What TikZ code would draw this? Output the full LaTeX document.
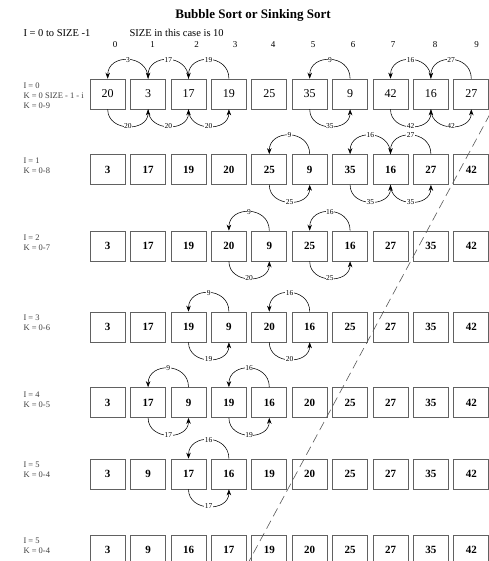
\documentclass[tikz,border=0pt]{standalone}
\usepackage{fontspec}
\setmainfont{Liberation Serif}
\usetikzlibrary{arrows.meta}
\newcommand\cellrow[4]{% #1 row, #2 y, #3 style, #4 values
  \foreach \v [count=\i from 0] in {#4} {\node[#3] (b#1-\i) at ({107.7+40.4*\i},-#2) {\v};}}
\newcommand\topsw[4]{\draw[swap] (b#1-#2.north) to[out=90,in=90,looseness=1.6] node[lbl]{#4} (b#1-#3.north);}
\newcommand\botsw[4]{\draw[swap] (b#1-#2.south) to[out=-90,in=-90,looseness=1.45] node[lbl]{#4} (b#1-#3.south);}
\begin{document}
\begin{tikzpicture}[x=1pt,y=1pt,
  cellbase/.style={draw=black!62, line width=0.7pt, minimum width=35pt, minimum height=30pt, inner sep=0pt},
  cellA/.style={cellbase, font=\fontsize{12}{14}\selectfont},
  cellB/.style={cellbase, font=\fontsize{11}{13}\selectfont\bfseries},
  swap/.style={line width=0.55pt, -{Stealth[length=6pt,width=4.5pt]}},
  lbl/.style={fill=white, inner sep=0.5pt, font=\fontsize{7.5}{8}\selectfont},
  side/.style={anchor=west, align=left, text=black!75, font=\fontsize{8.5}{10}\selectfont},
  head/.style={anchor=west, font=\fontsize{10.5}{12}\selectfont},
  colnum/.style={font=\fontsize{9}{10}\selectfont}]
\useasboundingbox (0,0) rectangle (488,-561);
\fill[white] (0,0) rectangle (488,-561);
% header
\node[font=\fontsize{13}{15}\selectfont\bfseries] (title) at (253,-15) {Bubble Sort or Sinking Sort};
\node[head] (h1) at (20,-33) {I = 0 to SIZE -1};
\node[head] (h2) at (126,-33) {SIZE in this case is 10};
\foreach \c [count=\i from 0] in {115,152.7,196.7,235,273,313,353,393,435,476.7}
  \node[colnum] (c\i) at (\c,-45) {\i};
% rows
\cellrow{0}{94}{cellA}{20,3,17,19,25,35,9,42,16,27}
\cellrow{1}{169.5}{cellB}{3,17,19,20,25,9,35,16,27,42}
\cellrow{2}{246}{cellB}{3,17,19,20,9,25,16,27,35,42}
\cellrow{3}{327}{cellB}{3,17,19,9,20,16,25,27,35,42}
\cellrow{4}{402.5}{cellB}{3,17,9,19,16,20,25,27,35,42}
\cellrow{5}{474}{cellB}{3,9,17,16,19,20,25,27,35,42}
\cellrow{6}{550}{cellB}{3,9,16,17,19,20,25,27,35,42}
% side labels
\node[side] (s0) at (20,-96) {I = 0\\K = 0 SIZE - 1 - i\\K = 0-9};
\node[side] (s1) at (20,-166) {I = 1\\K = 0-8};
\node[side] (s2) at (20,-243) {I = 2\\K = 0-7};
\node[side] (s3) at (20,-323) {I = 3\\K = 0-6};
\node[side] (s4) at (20,-399.5) {I = 4\\K = 0-5};
\node[side] (s5) at (20,-470) {I = 5\\K = 0-4};
\node[side] (s6) at (20,-546) {I = 5\\K = 0-4};
% swaps row 0
\topsw{0}{1}{0}{3}
\topsw{0}{2}{1}{17}
\topsw{0}{3}{2}{19}
\botsw{0}{0}{1}{20}
\botsw{0}{1}{2}{20}
\botsw{0}{2}{3}{20}
\topsw{0}{6}{5}{9}
\botsw{0}{5}{6}{35}
\topsw{0}{8}{7}{16}
\topsw{0}{9}{8}{27}
\botsw{0}{7}{8}{42}
\botsw{0}{8}{9}{42}
% row 1
\topsw{1}{5}{4}{9}
\topsw{1}{7}{6}{16}
\topsw{1}{8}{7}{27}
\botsw{1}{4}{5}{25}
\botsw{1}{6}{7}{35}
\botsw{1}{7}{8}{35}
% row 2
\topsw{2}{4}{3}{9}
\topsw{2}{6}{5}{16}
\botsw{2}{3}{4}{20}
\botsw{2}{5}{6}{25}
% row 3
\topsw{3}{3}{2}{9}
\topsw{3}{5}{4}{16}
\botsw{3}{2}{3}{19}
\botsw{3}{4}{5}{20}
% row 4
\topsw{4}{2}{1}{9}
\topsw{4}{4}{3}{16}
\botsw{4}{1}{2}{17}
\botsw{4}{3}{4}{19}
% row 5
\topsw{5}{3}{2}{16}
\botsw{5}{2}{3}{17}
% dashed divider
\coordinate (d1) at (490,-114);
\coordinate (d2) at (247,-565);
\draw[black!65, line width=0.6pt, dash pattern=on 9pt off 5pt] (d1) -- (d2);
\end{tikzpicture}
\end{document}
